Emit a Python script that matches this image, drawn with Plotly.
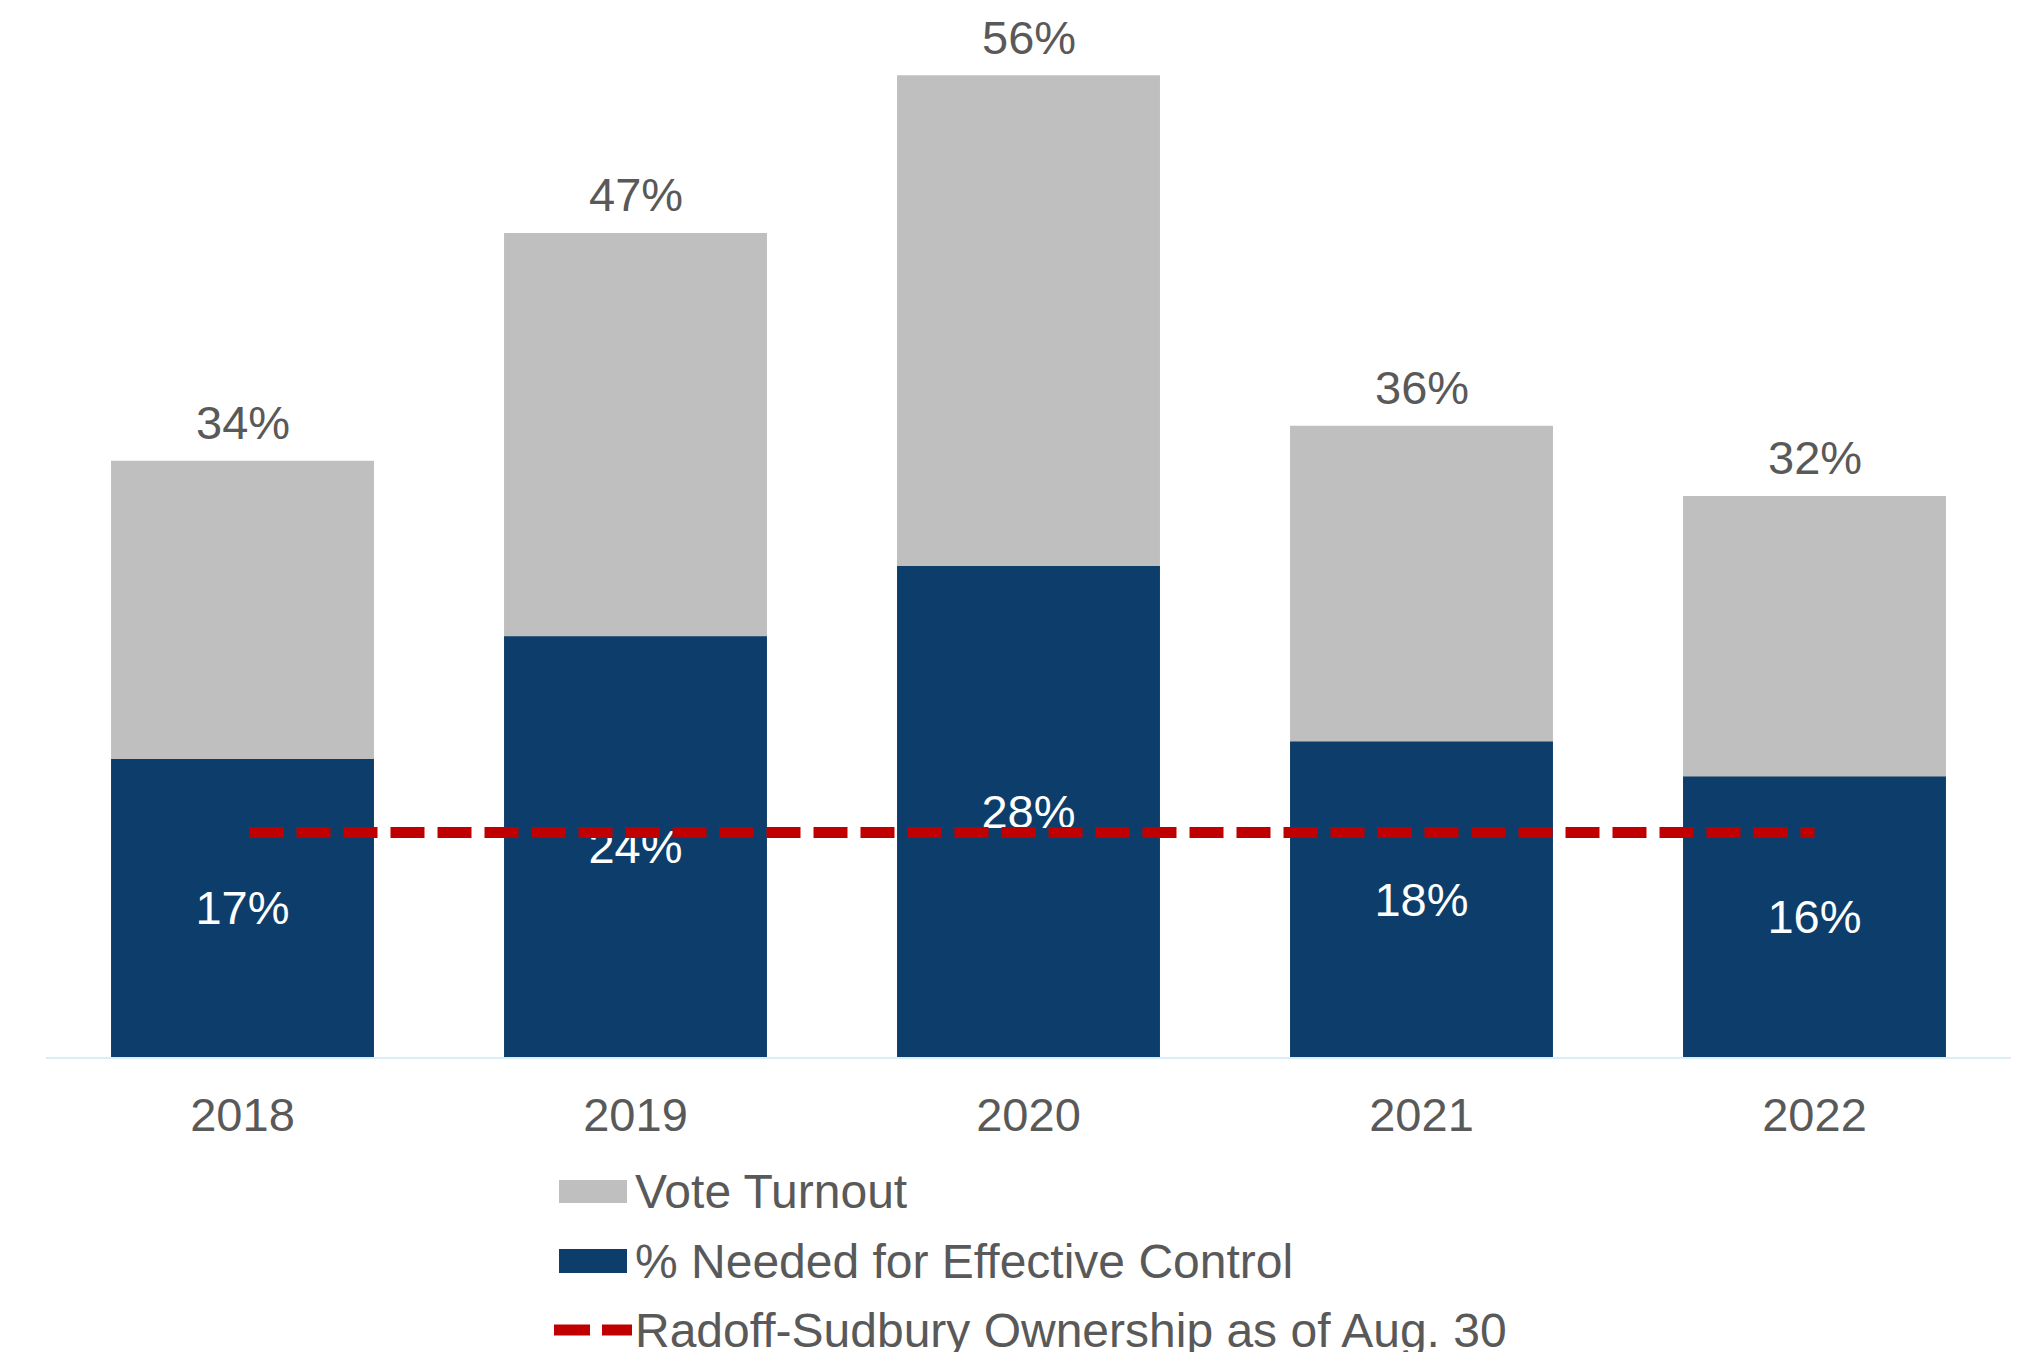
import plotly.graph_objects as go

# Data
years = ["2018", "2019", "2020", "2021", "2022"]
vote_turnout = [34, 47, 56, 36, 32]
needed_for_control = [17, 24, 28, 18, 16]
radoff_sudbury = [12.8, 12.8, 12.8, 12.8, 12.8]

name_turnout = "Vote Turnout"
name_needed = "% Needed for Effective Control"
name_owner = "Radoff-Sudbury Ownership as of Aug. 30"

# Style
FONT = "Arial, Liberation Sans, sans-serif"
TEXT_GREY = "#595959"
GREY = "#BFBFBF"
NAVY = "#0D3E6B"
RED = "#C00000"
FS = 47
FS_LEGEND = 48

W, H = 2018, 1352
ML, MR, MT, MB = 46, 7, 5, 295
PW, PH = W - ML - MR, H - MT - MB


def px_x(x):
    return (x - ML) / PW


def px_y(y):
    return (H - MB - y) / PH


fig = go.Figure()

fig.add_trace(go.Bar(
    x=years, y=vote_turnout, name=name_turnout,
    marker=dict(color=GREY, line=dict(width=0)),
    showlegend=False, hoverinfo="x+y",
))

fig.add_trace(go.Bar(
    x=years, y=needed_for_control, name=name_needed,
    marker=dict(color=NAVY, line=dict(width=0)),
    text=[f"{v}%" for v in needed_for_control],
    textposition="inside", insidetextanchor="middle", textangle=0,
    textfont=dict(family=FONT, size=FS, color="white"),
    showlegend=False, hoverinfo="x+y",
))

# Ownership line; the leading zero-length dash offsets the pattern
fig.add_trace(go.Scatter(
    x=years, y=radoff_sudbury, name=name_owner, mode="lines",
    line=dict(color=RED, width=11, dash="0px,7px,34px,6px"),
    showlegend=False, hoverinfo="y",
))

# Turnout labels above the grey bars (x given as category index)
annotations = []
for i, v in enumerate(vote_turnout):
    annotations.append(dict(
        x=i, y=v, xref="x", yref="y", text=f"{v}%", showarrow=False,
        yanchor="middle", yshift=38,
        font=dict(family=FONT, size=FS, color=TEXT_GREY),
    ))

# Legend drawn below the axis
shapes = []
legend_rows = [(name_turnout, 1191), (name_needed, 1261), (name_owner, 1330)]
shapes.append(dict(type="rect", xref="paper", yref="paper",
                   x0=px_x(559), x1=px_x(627), y0=px_y(1203), y1=px_y(1180),
                   fillcolor=GREY, line=dict(width=0)))
shapes.append(dict(type="rect", xref="paper", yref="paper",
                   x0=px_x(559), x1=px_x(627), y0=px_y(1273), y1=px_y(1249),
                   fillcolor=NAVY, line=dict(width=0)))
shapes.append(dict(type="line", xref="paper", yref="paper",
                   x0=px_x(554), x1=px_x(632), y0=px_y(1330), y1=px_y(1330),
                   line=dict(color=RED, width=11, dash="36px,12px")))
for label, yc in legend_rows:
    annotations.append(dict(
        x=px_x(633), y=px_y(yc), xref="paper", yref="paper", text=label,
        showarrow=False, xanchor="left", yanchor="middle",
        font=dict(family=FONT, size=FS_LEGEND, color=TEXT_GREY),
    ))

fig.update_layout(
    width=W, height=H,
    margin=dict(l=ML, r=MR, t=MT, b=MB, pad=0),
    paper_bgcolor="white", plot_bgcolor="white",
    barmode="overlay", bargap=0.331,
    font=dict(family=FONT, size=FS, color=TEXT_GREY),
    showlegend=False,
    annotations=annotations, shapes=shapes,
    xaxis=dict(
        type="category", categoryorder="array", categoryarray=years,
        range=[-0.5, len(years) - 0.5], autorange=False,
        showgrid=False, zeroline=False,
        showline=True, linecolor="#D9EEF9", linewidth=2,
        ticks="", ticklabelstandoff=16,
        tickfont=dict(family=FONT, size=FS, color=TEXT_GREY),
    ),
    yaxis=dict(
        range=[0, 60], autorange=False, visible=False,
        showgrid=False, zeroline=False,
    ),
)

fig.write_html("out.html")
